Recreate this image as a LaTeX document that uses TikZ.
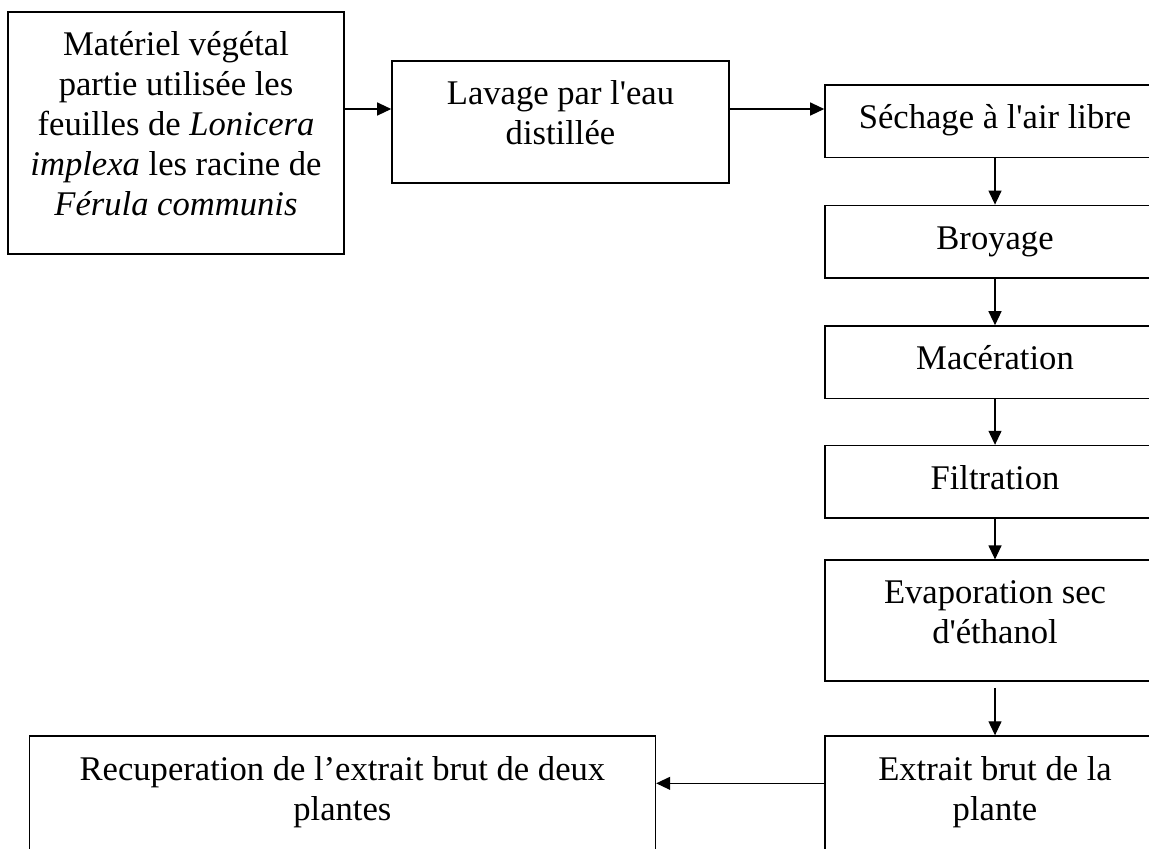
\documentclass[tikz,border=0pt]{standalone}
\usepackage{fontspec}
\setmainfont{Liberation Serif}[Ligatures=TeXOff]
\usepackage{tikz}
\usetikzlibrary{positioning}
\usetikzlibrary{arrows.meta}
\newcommand{\bfs}{\fontsize{17.3pt}{20pt}\selectfont}

\begin{document}
\begin{tikzpicture}

                \def\d{23.2pt}

                % Boxes with the text set from their top,
                % and the arrows between them
                \tikzset{
                    box/.style={draw, line width=0.8pt, align=center,
                    font=\bfs, inner xsep=0pt, inner ysep=10pt,
                    text height=11.8pt, text depth=4.5pt,
                    minimum width=170pt},
                    tallbox/.style={draw, line width=0.8pt, align=center,
                    font=\bfs, inner xsep=0pt, inner ysep=10pt,
                    text depth=9pt},
                    arr/.style={-{Triangle[length=7pt, width=6.5pt]},
                    line width=0.6pt}
                }

                % Page of the picture, the column on the right
                % runs past its edge
                \useasboundingbox (0, 0) rectangle (574.5pt, -424pt);
                \clip (0, 0) rectangle (574.5pt, -424pt);

                \begin{scope}
                    \node (mat) [tallbox, minimum width=168pt, anchor=north]
                    at (88pt, -5.5pt)
                    {Matériel végétal\\partie utilisée les\\
                    feuilles de \textit{Lonicera}\\
                    \textit{implexa} les racine de\\
                    \textit{Férula communis}};
                    \node (lav) [tallbox, minimum width=168.5pt, anchor=north]
                    at (280.25pt, -30pt)
                    {Lavage par l'eau\\distillée};
                    \node (sech) [box, anchor=north] at (497.5pt, -42pt)
                    {Séchage à l'air libre};
                    \node (broy) [box, below=\d of sech]
                    {Broyage};
                    \node (mac) [box, below=\d of broy]
                    {Macération};
                    \node (filt) [box, below=22.7pt of mac]
                    {Filtration};
                    \node (evap) [tallbox, minimum width=170pt,
                    below=20.2pt of filt]
                    {Evaporation sec\\d'éthanol};
                    \node (extr) [tallbox, minimum width=170pt,
                    below=26.7pt of evap]
                    {Extrait brut de la\\plante};
                    \node (rec) [tallbox, minimum width=313pt,
                    left=84pt of extr]
                    {Recuperation de l’extrait brut de deux\\plantes};
                \end{scope}

                \coordinate (ay) at ([yshift=-24.5pt]lav.north);
                \coordinate (by) at ([yshift=-24pt]extr.north);

                \begin{scope}[arr]
                    \draw (mat.east |- ay) -- (lav.west |- ay);
                    \draw (lav.east |- ay) -- (sech.west |- ay);
                    \draw (sech) -- (broy);
                    \draw (broy) -- (mac);
                    \draw (mac) -- (filt);
                    \draw (filt) -- (evap);
                    \draw ([yshift=-3pt]evap.south) -- (extr.north);
                    \draw (extr.west |- by) -- (rec.east |- by);
                \end{scope}

\end{tikzpicture}
\end{document}
